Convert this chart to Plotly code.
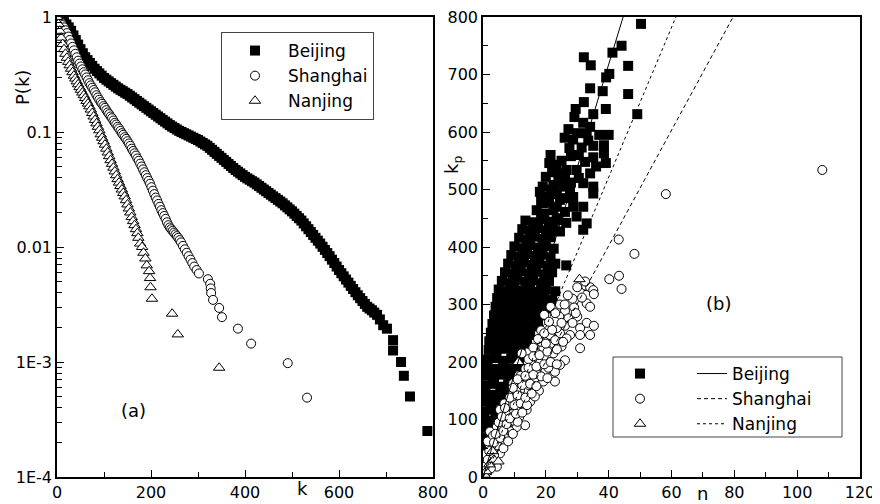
import plotly.graph_objects as go

# ---------------- Panel (a): cumulative degree distributions P(k) ----------------
beijing_k = [0, 5, 10, 15, 20, 25, 30, 35, 40, 45, 50, 55, 60, 65, 70, 75, 80, 85, 90, 95,
             100, 105, 110, 115, 120, 125, 130, 135, 140, 145, 150, 155, 160, 165, 170, 175,
             180, 185, 190, 195, 200, 205, 210, 215, 220, 225, 230, 235, 240, 245, 250, 255,
             260, 265, 270, 275, 280, 285, 290, 295, 300, 305, 310, 315, 320, 325, 330, 335,
             340, 345, 350, 355, 360, 365, 370, 375, 380, 385, 390, 395, 400, 405, 410, 415,
             420, 425, 430, 435, 440, 445, 450, 455, 460, 465, 470, 475, 480, 485, 490, 495,
             500, 505, 510, 515, 520, 525, 530, 535, 540, 545, 550, 555, 560, 565, 570, 575,
             580, 585, 590, 595, 600, 605, 610, 615, 620, 625, 630, 635, 640, 645, 650, 655,
             660, 665, 670, 675, 681, 687, 694, 702, 715, 715, 732, 738, 751, 788]
beijing_logP = [0, -0.01, -0.025, -0.045, -0.065, -0.09, -0.12, -0.16, -0.20, -0.24, -0.28,
                -0.315, -0.35, -0.375, -0.40, -0.425, -0.45, -0.47, -0.49, -0.51,
                -0.53, -0.545, -0.56, -0.575, -0.59, -0.605, -0.62, -0.633, -0.645, -0.658,
                -0.67, -0.685, -0.70, -0.715, -0.73, -0.745, -0.76, -0.775, -0.79, -0.805,
                -0.82, -0.835, -0.85, -0.865, -0.88, -0.895, -0.91, -0.925, -0.94, -0.953,
                -0.965, -0.978, -0.99, -1.0, -1.01, -1.02, -1.03, -1.04, -1.05, -1.06,
                -1.07, -1.083, -1.095, -1.108, -1.12, -1.138, -1.155, -1.173, -1.19, -1.208,
                -1.225, -1.243, -1.26, -1.278, -1.295, -1.313, -1.33, -1.345, -1.36, -1.375,
                -1.39, -1.403, -1.415, -1.428, -1.44, -1.455, -1.47, -1.485, -1.50, -1.515,
                -1.53, -1.545, -1.56, -1.575, -1.59, -1.605, -1.62, -1.638, -1.655, -1.673,
                -1.69, -1.71, -1.73, -1.75, -1.77, -1.795, -1.82, -1.845, -1.87, -1.895,
                -1.92, -1.945, -1.97, -1.998, -2.025, -2.053, -2.08, -2.11, -2.14, -2.17,
                -2.20, -2.228, -2.255, -2.283, -2.31, -2.338, -2.365, -2.393, -2.42, -2.445,
                -2.47, -2.495, -2.52, -2.535, -2.55, -2.57, -2.59, -2.63, -2.68, -2.71,
                -2.81, -2.90, -3.0, -3.12, -3.30, -3.60]

shanghai_k = [0, 3, 6, 9, 12, 15, 18, 21, 24, 27, 30, 33, 36, 39, 42, 45, 48, 51, 54, 57, 60,
              63, 66, 69, 72, 75, 78, 81, 84, 87, 90, 93, 96, 99, 102, 105, 108, 111, 114, 117,
              120, 123, 126, 129, 132, 135, 138, 141, 144, 147, 150, 153, 156, 159, 162, 165,
              168, 171, 174, 177, 180, 183, 186, 189, 192, 195, 198, 201, 204, 207, 210, 213,
              216, 219, 222, 225, 228, 231, 234, 237, 240, 243, 246, 249, 252, 255, 258, 261,
              264, 268, 272, 276, 280, 284, 288, 292, 297, 302, 321, 326, 327, 328, 332, 345,
              351, 385, 413, 491, 532]
shanghai_logP = [0, -0.015, -0.035, -0.05, -0.07, -0.09, -0.115, -0.14, -0.17, -0.2, -0.23,
                 -0.26, -0.29, -0.32, -0.35, -0.38, -0.405, -0.43, -0.455, -0.48, -0.50,
                 -0.525, -0.55, -0.575, -0.595, -0.615, -0.635, -0.655, -0.68, -0.70, -0.72,
                 -0.74, -0.755, -0.775, -0.79, -0.81, -0.83, -0.845, -0.865, -0.88,
                 -0.90, -0.92, -0.935, -0.955, -0.97, -0.99, -1.01, -1.025, -1.045, -1.06,
                 -1.08, -1.10, -1.12, -1.145, -1.165, -1.185, -1.205, -1.23, -1.25, -1.275,
                 -1.30, -1.325, -1.35, -1.375, -1.40, -1.425, -1.45, -1.48, -1.51, -1.54,
                 -1.57, -1.595, -1.625, -1.65, -1.68, -1.705, -1.73, -1.755, -1.785, -1.81,
                 -1.83, -1.845, -1.86, -1.875, -1.89, -1.905, -1.92, -1.94, -1.96,
                 -1.99, -2.02, -2.05, -2.08, -2.11, -2.14, -2.17, -2.20, -2.23, -2.28, -2.32,
                 -2.36, -2.40, -2.46, -2.53, -2.61, -2.71, -2.84, -3.01, -3.31]

nanjing_k = [0, 3, 6, 9, 12, 15, 18, 21, 24, 27, 30, 33, 36, 39, 42, 45, 48, 51, 54, 57, 60,
             63, 66, 69, 72, 75, 78, 81, 84, 87, 90, 93, 96, 99, 102, 105, 108, 111, 114, 117,
             120, 123, 126, 129, 132, 135, 138, 141, 144, 147, 150, 153, 156, 159, 162, 165,
             168, 171, 173, 177, 181, 184, 188, 191, 196, 198, 199, 202, 245, 257, 345]
nanjing_logP = [0, -0.06, -0.12, -0.18, -0.235, -0.28, -0.32, -0.355, -0.39, -0.42, -0.45,
                -0.48, -0.51, -0.535, -0.56, -0.585, -0.61, -0.633, -0.657, -0.68, -0.705,
                -0.73, -0.753, -0.777, -0.805, -0.835, -0.865, -0.895, -0.925, -0.955, -0.985,
                -1.02, -1.05, -1.08, -1.11, -1.145, -1.178, -1.21, -1.245, -1.277,
                -1.31, -1.343, -1.376, -1.41, -1.44, -1.47, -1.50, -1.53, -1.56, -1.593,
                -1.63, -1.665, -1.70, -1.74, -1.775, -1.81, -1.845, -1.88, -1.92, -1.97,
                -2.0, -2.05, -2.10, -2.16, -2.21, -2.27, -2.35, -2.45, -2.58, -2.76, -3.05]

# ---------------- Panel (b): k_p versus n ----------------
beijing_n = [
    0.3, 1.2, 0.3, 1.5, 0.4, 1.8, 0.3, 2.0, 0.5, 2.2, 0.3, 2.5,
    0.3, 2.5, 4.0, 0.4, 2.6, 4.5, 0.5, 2.8, 5.0,
    0.6, 3.0, 5.5, 7.0, 0.8, 3.2, 5.8, 8.0, 1.0, 3.5, 6.0, 8.5,
    1.2, 3.8, 6.5, 9.0, 11.0, 1.5, 4.0, 6.5, 9.0, 11.5, 1.8, 4.3, 7.0, 9.5, 12.0,
    2.0, 4.5, 7.0, 9.5, 12.0, 14.0, 2.5, 5.0, 7.5, 10.0, 12.5, 15.0,
    3.0, 5.5, 8.0, 10.5, 13.0, 15.5, 17.5, 3.5, 6.0, 8.5, 11.0, 13.5, 16.0, 18.5,
    4.0, 6.5, 9.0, 11.5, 14.0, 16.5, 19.0, 21.0, 4.5, 7.0, 9.5, 12.0, 14.5, 17.0, 19.5, 22.0,
    5.0, 7.5, 10.0, 12.5, 15.0, 17.5, 20.0, 23.0, 6.0, 8.5, 11.0, 13.5, 16.0, 18.5, 21.0,
    7.0, 9.5, 12.0, 14.5, 17.0, 19.5, 22.0, 8.0, 10.5, 13.0, 15.5, 18.0, 20.5, 23.0, 26.5,
    9.0, 11.5, 14.0, 16.5, 19.0, 21.5, 10.0, 12.5, 15.0, 17.5, 20.0, 22.5,
    11.5, 14.0, 16.5, 19.0, 21.5, 12.5, 15.0, 17.5, 20.0, 22.5, 24.5,
    13.5, 16.0, 18.5, 21.0, 23.5, 26.5,
    50.3, 44.1, 41.2, 32.1, 34.3, 46.2, 40.2, 39.2, 34.1, 38.1, 46.2, 32.1, 39.1, 49.1, 35.1,
    29.1, 31.9, 27.2, 34.1, 33.0, 37.0, 40.0, 28.7, 27.5, 31.4, 35.1, 38.5, 38.5, 39.1, 35.1,
    28.0, 21.1, 23.4, 26.6, 29.8, 34.1, 20.0, 26.1, 22.4, 31.9, 35.1, 18.1, 27.7, 35.1, 20.8,
    24.5, 28.7, 19.2, 17.1, 22.4, 26.1, 31.9, 29.8, 33.0, 31.9, 28.7,
    23.5, 25.5, 30.5, 19.5, 24.0, 18.5, 21.0, 23.5, 26.0, 19.0, 21.5, 24.0, 28.0, 22.0, 24.5,
    21.5, 25.0, 30.5, 26.0, 30.0, 33.5, 29.5, 36.0, 32.5]
beijing_kp = [
    8, 12, 24, 27, 41, 38, 56, 53, 69, 72, 86, 83,
    101, 98, 103, 114, 117, 112, 131, 128, 133,
    146, 143, 148, 144, 159, 162, 157, 161, 176, 173, 178, 174,
    191, 188, 193, 189, 192, 204, 207, 202, 206, 203, 221, 218, 223, 219, 222,
    236, 233, 238, 234, 237, 232, 251, 248, 253, 249, 252, 247,
    266, 263, 268, 264, 267, 262, 266, 281, 278, 283, 279, 282, 277, 281,
    296, 293, 298, 294, 297, 292, 296, 293, 311, 308, 313, 309, 312, 307, 311, 308,
    326, 323, 328, 324, 327, 322, 326, 323, 341, 338, 343, 339, 342, 337, 341,
    356, 353, 358, 354, 357, 352, 356, 371, 368, 373, 369, 372, 367, 371, 368,
    386, 383, 388, 384, 387, 382, 401, 398, 403, 399, 402, 397,
    416, 413, 418, 414, 417, 431, 428, 433, 429, 432, 427,
    446, 443, 448, 444, 447, 442,
    788, 750, 738, 730, 716, 715, 701, 695, 676, 671, 666, 652, 640, 631, 631,
    626, 616, 605, 609, 598, 595, 595, 587, 572, 573, 576, 577, 563, 546, 556,
    558, 546, 543, 534, 534, 528, 522, 520, 508, 511, 505, 496, 499, 493, 487,
    482, 487, 476, 464, 464, 461, 470, 453, 441, 430, 470,
    492, 505, 520, 458, 450, 480, 478, 470, 485, 505, 500, 515, 512, 530, 528,
    560, 550, 560, 590, 598, 585, 640, 540, 548]

shanghai_n = [
    108.0, 58.2, 43.2, 48.2, 40.2, 43.3, 44.1,
    32.8, 34.1, 35.1, 35.3, 33.0, 34.1, 29.0, 26.1, 24.3, 27.2, 30.0, 33.0, 35.3, 26.1, 30.9,
    34.1, 30.9, 27.7, 24.5, 21.9, 30.9, 26.6, 25.0, 26.1, 23.5, 21.3, 22.4, 19.2, 22.4, 20.3,
    17.1, 18.1, 22.9, 22.9, 19.7, 19.2, 15.5, 17.1, 15.0, 16.0, 12.8, 13.9, 11.8, 15.0, 12.8,
    13.9, 12.3, 9.6, 9.1, 10.7, 8.1, 9.6, 8.1, 13.4, 5.4, 6.5, 4.4, 2.2, 4.4, 6.5, 2.2, 1.7,
    1.2, 1.7, 5.4, 4.4, 7.5, 10.7,
    0.5, 1.0, 2.5, 0.6, 3.0, 0.8, 2.5, 3.8, 1.5, 3.2, 5.5, 8.5, 6.0, 9.5, 11.5, 7.5, 11.0,
    6.8, 12.0, 10.5, 14.5, 12.0, 13.5, 16.5, 14.5, 16.0, 18.5, 20.5, 23.0, 19.5, 28.5, 24.5,
    21.5, 18.5, 20.8, 24.5, 17.8, 16.5,
    1.5, 3.5, 2.0, 4.5, 6.5, 3.5, 5.5, 8.0, 4.0, 6.5, 9.5, 5.0, 7.5, 11.0, 6.0, 8.5, 10.5,
    12.5, 7.0, 10.0, 12.0, 14.0, 8.5, 11.0, 13.5, 15.5, 9.5, 12.5, 15.0, 17.0, 11.0, 13.5,
    16.0, 18.5, 20.5, 14.5, 17.0, 19.5, 21.5, 23.5, 16.0, 18.0, 20.5, 23.5, 17.5, 20.0, 23.0,
    25.5, 19.5, 22.0, 25.0, 28.5, 21.0, 23.0, 26.0, 29.5, 31.5, 27.0, 30.0, 32.5]
shanghai_kp = [
    534, 492, 413, 388, 344, 350, 327,
    332, 330, 325, 318, 302, 296, 295, 289, 279, 276, 279, 268, 263, 263, 259,
    247, 247, 247, 250, 244, 224, 241, 227, 203, 259, 247, 232, 224, 215, 206,
    215, 198, 183, 166, 183, 166, 195, 180, 174, 157, 169, 148, 151, 131, 128,
    117, 215, 163, 143, 134, 125, 111, 93, 90, 117, 99, 87, 79, 64, 64, 53, 35,
    24, 12, 41, 18, 70, 87,
    5, 8, 15, 18, 28, 40, 42, 50, 62, 72, 78, 80, 88, 98, 104, 108, 118,
    128, 140, 150, 160, 176, 188, 172, 205, 225, 235, 260, 270, 282, 310, 300,
    296, 255, 190, 195, 150, 140,
    30, 38, 45, 55, 50, 60, 68, 62, 75, 80, 75, 95, 92, 96, 105, 102, 110,
    112, 120, 125, 128, 125, 138, 142, 138, 145, 155, 160, 162, 158, 170, 176,
    178, 175, 172, 190, 192, 196, 200, 196, 210, 212, 218, 222, 240, 232, 238,
    235, 250, 256, 268, 268, 270, 285, 300, 285, 312, 316, 330, 340]

nanjing_n = [0.5, 1.0, 2.0, 3.5, 4.9, 3.0, 11.2, 30.7]
nanjing_kp = [4, 10, 22, 30, 27, 45, 200, 344]

# fitted straight lines (end points)
beijing_fit_n, beijing_fit_kp = [0, 44.6], [0, 800]
shanghai_fit_n, shanghai_fit_kp = [0, 79.6], [0, 800]
nanjing_fit_n, nanjing_fit_kp = [0, 61.4], [0, 800]

FONT = "DejaVu Sans, Arial, sans-serif"
# the page body has an 8px margin: the figure is drawn 8px in from the window corner
OFF = 8
W, H = 880 - OFF, 504 - OFF


def px(x):
    return (x - OFF) / W


def py(y):
    return 1 - (y - OFF) / H


sq = dict(symbol="square", size=10, color="black", line=dict(width=0))
sq_b = dict(symbol="square", size=10, color="black", line=dict(width=0))
ci = dict(symbol="circle", size=9, color="white", line=dict(color="black", width=1))
tri = dict(symbol="triangle-up", size=10, color="white", line=dict(color="black", width=1))

fig = go.Figure()

# panel (a)
fig.add_trace(go.Scatter(x=beijing_k, y=[10 ** v for v in beijing_logP], mode="markers",
                         marker=sq, name="Beijing", xaxis="x", yaxis="y", legend="legend"))
fig.add_trace(go.Scatter(x=shanghai_k, y=[10 ** v for v in shanghai_logP], mode="markers",
                         marker=ci, name="Shanghai", xaxis="x", yaxis="y", legend="legend"))
fig.add_trace(go.Scatter(x=nanjing_k, y=[10 ** v for v in nanjing_logP], mode="markers",
                         marker=tri, name="Nanjing", xaxis="x", yaxis="y", legend="legend"))

# panel (b) scatter
fig.add_trace(go.Scatter(x=beijing_n, y=beijing_kp, mode="markers", marker=sq_b, name=" ",
                         xaxis="x2", yaxis="y2", legend="legend3"))
fig.add_trace(go.Scatter(x=shanghai_n, y=shanghai_kp, mode="markers", marker=ci, name=" ",
                         xaxis="x2", yaxis="y2", legend="legend3"))
fig.add_trace(go.Scatter(x=nanjing_n, y=nanjing_kp, mode="markers", marker=tri, name=" ",
                         xaxis="x2", yaxis="y2", legend="legend3"))
# panel (b) fit lines
fig.add_trace(go.Scatter(x=beijing_fit_n, y=beijing_fit_kp, mode="lines", name="Beijing",
                         line=dict(color="black", width=1), xaxis="x2", yaxis="y2", legend="legend2"))
fig.add_trace(go.Scatter(x=shanghai_fit_n, y=shanghai_fit_kp, mode="lines", name="Shanghai",
                         line=dict(color="black", width=1, dash="4px,3px"), xaxis="x2", yaxis="y2",
                         legend="legend2"))
fig.add_trace(go.Scatter(x=nanjing_fit_n, y=nanjing_fit_kp, mode="lines", name="Nanjing",
                         line=dict(color="black", width=1, dash="dot"), xaxis="x2", yaxis="y2",
                         legend="legend2"))

axis_common = dict(showline=True, linecolor="black", linewidth=1.6, mirror=True,
                   ticks="inside", ticklen=7, tickwidth=1.2, tickcolor="black",
                   showgrid=False, zeroline=False, automargin=False,
                   ticklabeloverflow="allow",
                   tickfont=dict(family=FONT, size=16, color="black"))

LEG_FONT = dict(family=FONT, size=17, color="black")


def ann(text, x, y, angle=0):
    return dict(text=text, x=px(x), y=py(y), xref="paper", yref="paper", textangle=angle,
                xanchor="center", yanchor="middle", showarrow=False,
                font=dict(family=FONT, size=18, color="black"))


fig.update_layout(
    template="none",
    width=W, height=H, margin=dict(l=0, r=0, t=0, b=0, pad=0), autosize=False,
    paper_bgcolor="white", plot_bgcolor="white",
    font=dict(family=FONT, color="black"),
    xaxis=dict(domain=[px(57), px(433)], range=[0, 800], tickvals=[0, 200, 400, 600, 800],
               minor=dict(ticks="inside", ticklen=5, tickcolor="black", tickvals=[100, 300, 500, 700]),
               anchor="y", **axis_common),
    yaxis=dict(domain=[py(477), py(17)], type="log", range=[-4, 0],
               tickvals=[1e-4, 1e-3, 0.01, 0.1, 1], ticktext=["1E-4", "1E-3", "0.01", "0.1", "1"],
               minor=dict(ticks="inside", ticklen=5, tickcolor="black", dtick="D1"),
               anchor="x", **axis_common),
    xaxis2=dict(domain=[px(483), px(860)], range=[0, 120], dtick=20,
                minor=dict(ticks="inside", ticklen=5, tickcolor="black", dtick=10),
                anchor="y2", **axis_common),
    yaxis2=dict(domain=[py(477), py(17)], range=[0, 800], dtick=100,
                minor=dict(ticks="inside", ticklen=5, tickcolor="black", dtick=50),
                anchor="x2", **axis_common),
    legend=dict(x=px(221), y=py(32), xanchor="left", yanchor="top", itemwidth=56,
                font=LEG_FONT, bgcolor="white", bordercolor="#444", borderwidth=1,
                tracegroupgap=0),
    legend2=dict(x=px(692), y=py(356), xanchor="left", yanchor="top",
                 font=LEG_FONT, bgcolor="rgba(0,0,0,0)", borderwidth=0),
    legend3=dict(x=px(620), y=py(356), xanchor="left", yanchor="top",
                 font=LEG_FONT, bgcolor="rgba(0,0,0,0)", borderwidth=0),
    shapes=[dict(type="rect", xref="paper", yref="paper", x0=px(613), x1=px(842),
                 y0=py(437), y1=py(357), line=dict(color="#444", width=1),
                 fillcolor="rgba(0,0,0,0)", layer="below")],
    annotations=[
        ann("P(k)", 23, 88, -90),
        ann("k", 302, 488),
        ann("n", 702, 493),
        ann("k<sub>p</sub>", 453, 165, -90),
        ann("(a)", 133, 410),
        ann("(b)", 718, 303),
    ],
)

fig.write_html("out.html")
